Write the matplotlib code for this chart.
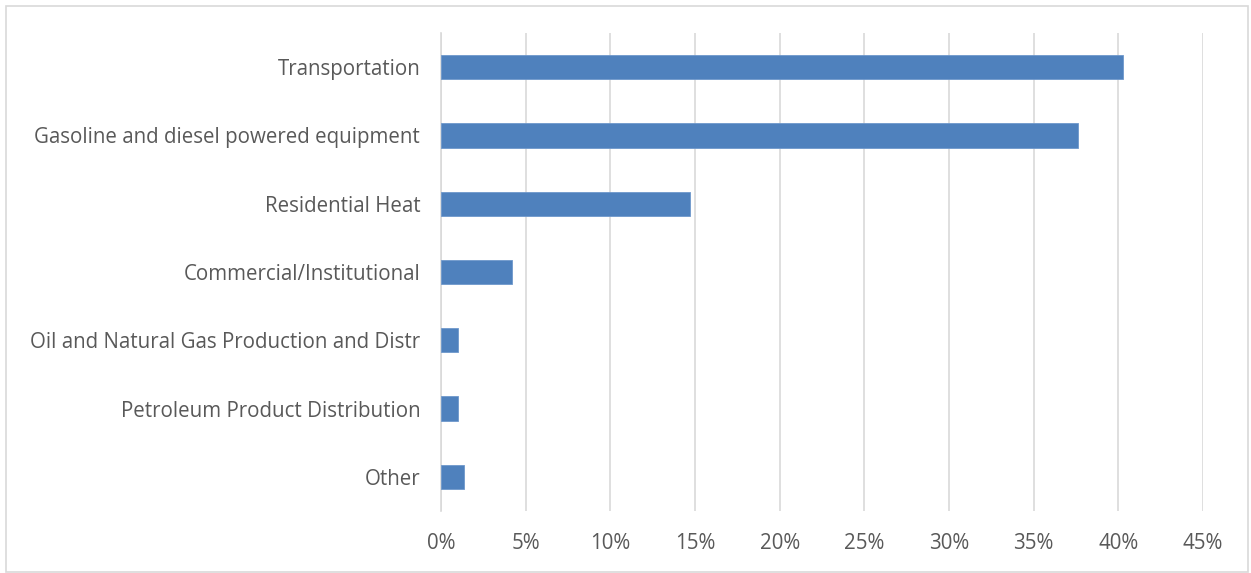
import matplotlib.pyplot as plt
from matplotlib.patches import Rectangle
from matplotlib.ticker import FuncFormatter

# share of emissions by source (percent)
categories = ['Transportation',
              'Gasoline and diesel powered equipment',
              'Residential Heat',
              'Commercial/Institutional',
              'Oil and Natural Gas Production and Distr',
              'Petroleum Product Distribution',
              'Other']
values = [40.3, 37.6, 14.7, 4.2, 1.0, 1.0, 1.35]
xticks = [0, 5, 10, 15, 20, 25, 30, 35, 40, 45]

bar_color = '#4F81BD'
grid_color = '#D9D9D9'
text_color = '#595959'

plt.rcParams['font.family'] = ['Open Sans', 'DejaVu Sans']

fig = plt.figure(figsize=(12.51, 5.73), dpi=100)
ax = fig.add_axes([441/1251, 62/573, 762/1251, 478/573])

ypos = list(range(len(categories)))
ax.barh(ypos, values, height=0.355, color=bar_color, edgecolor='#6E98CC', linewidth=0.6, zorder=3)
ax.set_ylim(len(categories) - 0.5, -0.5)
ax.set_yticks(ypos)
ax.set_yticklabels(categories, fontsize=14.8, color=text_color)

ax.set_xlim(0, 45)
ax.set_xticks(xticks)
ax.xaxis.set_major_formatter(FuncFormatter(lambda v, p: '%d%%' % v))
ax.tick_params(axis='x', labelsize=14.8, labelcolor=text_color, length=0, pad=16)
ax.tick_params(axis='y', length=0, pad=15)
ax.grid(axis='x', color=grid_color, linewidth=1.2, zorder=0)

for s in ['top', 'right', 'bottom']:
    ax.spines[s].set_visible(False)
ax.spines['left'].set_color(grid_color)
ax.spines['left'].set_linewidth(1.2)

fig.patches.append(Rectangle((6/1251, 1/573), 1242/1251, 566/573, transform=fig.transFigure,
                             fill=False, edgecolor=grid_color, linewidth=1.2))

fig.savefig('out.png', dpi=100)
